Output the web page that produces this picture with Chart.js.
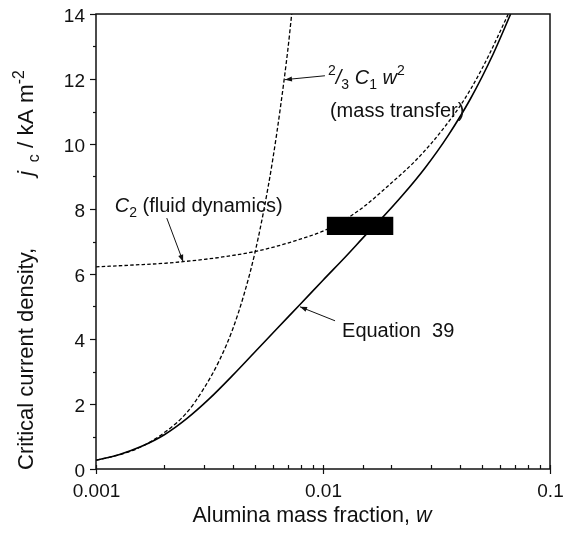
<!DOCTYPE html>
<html><head><meta charset="utf-8">
<script src="https://cdn.jsdelivr.net/npm/chart.js@4.4.0/dist/chart.umd.min.js"></script>
<style>html,body{margin:0;padding:0;background:#fff;}#wrap{width:563px;height:541px;position:relative;}</style>
</head><body><div id="wrap"><canvas id="c" width="563" height="541"></canvas></div>
<script>
// ---- data ----
const xTickLabels = ['0.001', '0.01', '0.1'];
const yTickLabels = ['0', '2', '4', '6', '8', '10', '12', '14'];

// 2/3 C1 w^2 (mass transfer), dashed
const wMass = [0.001, 0.0013, 0.0016, 0.002, 0.0025, 0.003, 0.0035, 0.004, 0.0045, 0.005, 0.0055, 0.006, 0.0065, 0.007, 0.00728];
const jMass = [0.27, 0.46, 0.70, 1.12, 1.72, 2.50, 3.35, 4.30, 5.40, 6.62, 8.00, 9.50, 11.15, 12.90, 14.0];

// C2 (fluid dynamics), dashed
const wC2 = [0.001, 0.0015, 0.002, 0.003, 0.004, 0.005, 0.006, 0.008, 0.01, 0.012, 0.015, 0.02, 0.025, 0.03, 0.035, 0.04, 0.045, 0.05, 0.055, 0.06, 0.0655];
const jC2 = [6.22, 6.28, 6.33, 6.45, 6.57, 6.69, 6.82, 7.08, 7.32, 7.6, 8.05, 8.8, 9.42, 10.02, 10.6, 11.15, 11.72, 12.3, 12.87, 13.43, 14.0];

// Equation 39, solid
const wEq = [0.001, 0.00126, 0.00158, 0.002, 0.00251, 0.00316, 0.00398, 0.00501, 0.00631, 0.00794, 0.01, 0.0126, 0.0158, 0.0178, 0.0224, 0.0282, 0.0355, 0.0447, 0.0562, 0.0671];
const jEq = [0.27, 0.44, 0.69, 1.055, 1.55, 2.165, 2.865, 3.6, 4.34, 5.07, 5.81, 6.54, 7.28, 7.65, 8.42, 9.27, 10.25, 11.4, 12.77, 14.0];

// black operating-range box
const rectW = [0.0104, 0.0204];
const rectJ = [7.2, 7.76];

// annotation anchors (data coordinates)
const labelC2 = [0.00121, 7.92];
const arrowC2 = [[0.00205, 7.72], [0.00242, 6.38]];
const labelMass1 = [0.01052, 11.85];
const labelMass2 = [0.01073, 10.83];
const arrowMass = [[0.0102, 12.1], [0.0068, 11.98]];
const labelEq = [0.01213, 4.06];
const arrowEq = [[0.0113, 4.56], [0.00792, 4.99]];

// ---- helpers ----
const FAM = "'Liberation Sans', Arial, sans-serif";
const toPts = (ws, js) => ws.map((w, i) => ({x: w, y: js[i]}));
const isPow10 = v => Math.abs(Math.log10(v) - Math.round(Math.log10(v))) < 1e-6;

function segWidth(ctx, s, size) {
  const fs = s.s ? size * 0.7 : size;
  ctx.font = (s.i ? 'italic ' : '') + fs + 'px ' + FAM;
  return ctx.measureText(s.t).width;
}
function drawRich(ctx, segs, x, y, size, align) {
  let total = 0;
  segs.forEach(s => total += segWidth(ctx, s, size));
  let cx = align === 'center' ? x - total / 2 : (align === 'right' ? x - total : x);
  ctx.textBaseline = 'alphabetic';
  ctx.textAlign = 'left';
  segs.forEach(s => {
    const w = segWidth(ctx, s, size);
    let dy = 0;
    if (s.s === 'sub') dy = size * 0.25;
    if (s.s === 'sup') dy = -size * 0.42;
    ctx.fillText(s.t, cx, y + dy);
    cx += w;
  });
}
function arrow(ctx, x1, y1, x2, y2) {
  ctx.beginPath(); ctx.moveTo(x1, y1); ctx.lineTo(x2, y2); ctx.stroke();
  const a = Math.atan2(y2 - y1, x2 - x1), L = 7, W = 2.6;
  ctx.beginPath();
  ctx.moveTo(x2, y2);
  ctx.lineTo(x2 - L * Math.cos(a) + W * Math.sin(a), y2 - L * Math.sin(a) - W * Math.cos(a));
  ctx.lineTo(x2 - L * Math.cos(a) - W * Math.sin(a), y2 - L * Math.sin(a) + W * Math.cos(a));
  ctx.closePath(); ctx.fill();
}

const decor = {
  id: 'decor',
  afterDatasetsDraw(chart) {
    const {ctx, scales: {x, y}} = chart;
    ctx.save();
    const rx1 = x.getPixelForValue(rectW[0]), rx2 = x.getPixelForValue(rectW[1]);
    const ry1 = y.getPixelForValue(rectJ[1]), ry2 = y.getPixelForValue(rectJ[0]);
    ctx.fillStyle = '#000';
    ctx.fillRect(rx1, ry1, rx2 - rx1, ry2 - ry1);
    ctx.restore();
  },
  afterDraw(chart) {
    const {ctx, chartArea: a, scales: {x, y}} = chart;
    ctx.save();
    ctx.strokeStyle = '#111'; ctx.fillStyle = '#111';
    ctx.lineWidth = 1.5;
    ctx.strokeRect(a.left, a.top, a.right - a.left, a.bottom - a.top);
    ctx.lineWidth = 1.2;
    // x ticks + labels
    ctx.font = '19px ' + FAM;
    x.ticks.forEach(t => {
      const px = Math.round(x.getPixelForValue(t.value)) + 0.5;
      ctx.beginPath();
      if (isPow10(t.value)) {
        ctx.moveTo(px, a.bottom - 4); ctx.lineTo(px, a.bottom + 5); ctx.stroke();
        const idx = Math.round(Math.log10(t.value)) + 3;
        ctx.textAlign = 'center'; ctx.textBaseline = 'alphabetic';
        ctx.fillText(xTickLabels[idx], px, a.bottom + 28);
      } else { ctx.moveTo(px, a.bottom); ctx.lineTo(px, a.bottom - 4); ctx.stroke(); }
    });
    // y ticks + labels
    y.ticks.forEach(t => {
      const py = Math.round(y.getPixelForValue(t.value)) + 0.5;
      ctx.beginPath();
      if (t.value % 2 === 0) {
        ctx.moveTo(a.left - 6, py); ctx.lineTo(a.left, py); ctx.stroke();
        ctx.textAlign = 'right'; ctx.textBaseline = 'alphabetic';
        ctx.fillText(yTickLabels[t.value / 2], a.left - 11, py + 7);
      } else { ctx.moveTo(a.left - 3, py); ctx.lineTo(a.left, py); ctx.stroke(); }
    });
    // axis titles
    drawRich(ctx, [{t: 'Alumina mass fraction, '}, {t: 'w', i: true}], 312, 522, 21.5, 'center');
    ctx.save();
    ctx.translate(33, 470);
    ctx.rotate(-Math.PI / 2);
    drawRich(ctx, [{t: 'Critical current density,'}], 0, 0, 22, 'left');
    drawRich(ctx, [{t: 'j', i: true}, {t: '  c', s: 'sub'}, {t: ' / kA m'}, {t: '-2', s: 'sup'}], 294, 0, 22.5, 'left');
    ctx.restore();
    // annotations
    const P = p => [x.getPixelForValue(p[0]), y.getPixelForValue(p[1])];
    let p = P(labelC2);
    drawRich(ctx, [{t: 'C', i: true}, {t: '2', s: 'sub'}, {t: ' (fluid dynamics)'}], p[0], p[1], 20, 'left');
    p = P(labelMass1);
    drawRich(ctx, [{t: '2', s: 'sup'}, {t: '/', i: true}, {t: '3', s: 'sub'}, {t: ' '}, {t: 'C', i: true}, {t: '1', s: 'sub'},
                   {t: ' '}, {t: 'w', i: true}, {t: '2', s: 'sup'}], p[0], p[1], 20, 'left');
    p = P(labelMass2);
    drawRich(ctx, [{t: '(mass transfer)'}], p[0], p[1], 20, 'left');
    p = P(labelEq);
    drawRich(ctx, [{t: 'Equation  39'}], p[0], p[1], 20, 'left');
    ctx.lineWidth = 1;
    [arrowC2, arrowMass, arrowEq].forEach(ar => {
      const s = P(ar[0]), e = P(ar[1]);
      arrow(ctx, s[0], s[1], e[0], e[1]);
    });
    ctx.restore();
  }
};

Chart.defaults.font.family = FAM;
Chart.defaults.color = '#111';

new Chart(document.getElementById('c'), {
  type: 'scatter',
  data: {
    datasets: [
      {label: 'Equation 39', data: toPts(wEq, jEq), showLine: true, borderColor: '#000', borderWidth: 1.6,
       pointRadius: 0, cubicInterpolationMode: 'monotone', fill: false},
      {label: 'C2 (fluid dynamics)', data: toPts(wC2, jC2), showLine: true, borderColor: '#000', borderWidth: 1.3,
       borderDash: [3.5, 2.2], pointRadius: 0, cubicInterpolationMode: 'monotone', fill: false},
      {label: '2/3 C1 w2 (mass transfer)', data: toPts(wMass, jMass), showLine: true, borderColor: '#000', borderWidth: 1.3,
       borderDash: [4, 2.2], pointRadius: 0, cubicInterpolationMode: 'monotone', fill: false}
    ]
  },
  options: {
    responsive: false,
    animation: false,
    devicePixelRatio: 1,
    layout: {padding: {left: 0, right: 13, top: 14, bottom: 0}, autoPadding: false},
    plugins: {legend: {display: false}, tooltip: {enabled: false}},
    scales: {
      x: {
        type: 'logarithmic', min: 0.001, max: 0.1,
        grid: {display: false}, border: {display: false},
        ticks: {display: false, autoSkip: false},
        afterFit: s => { s.height = 72; }
      },
      y: {
        type: 'linear', min: 0, max: 14,
        grid: {display: false}, border: {display: false},
        ticks: {display: false, stepSize: 1},
        afterFit: s => { s.width = 96; }
      }
    }
  },
  plugins: [decor]
});
</script>
</body></html>
